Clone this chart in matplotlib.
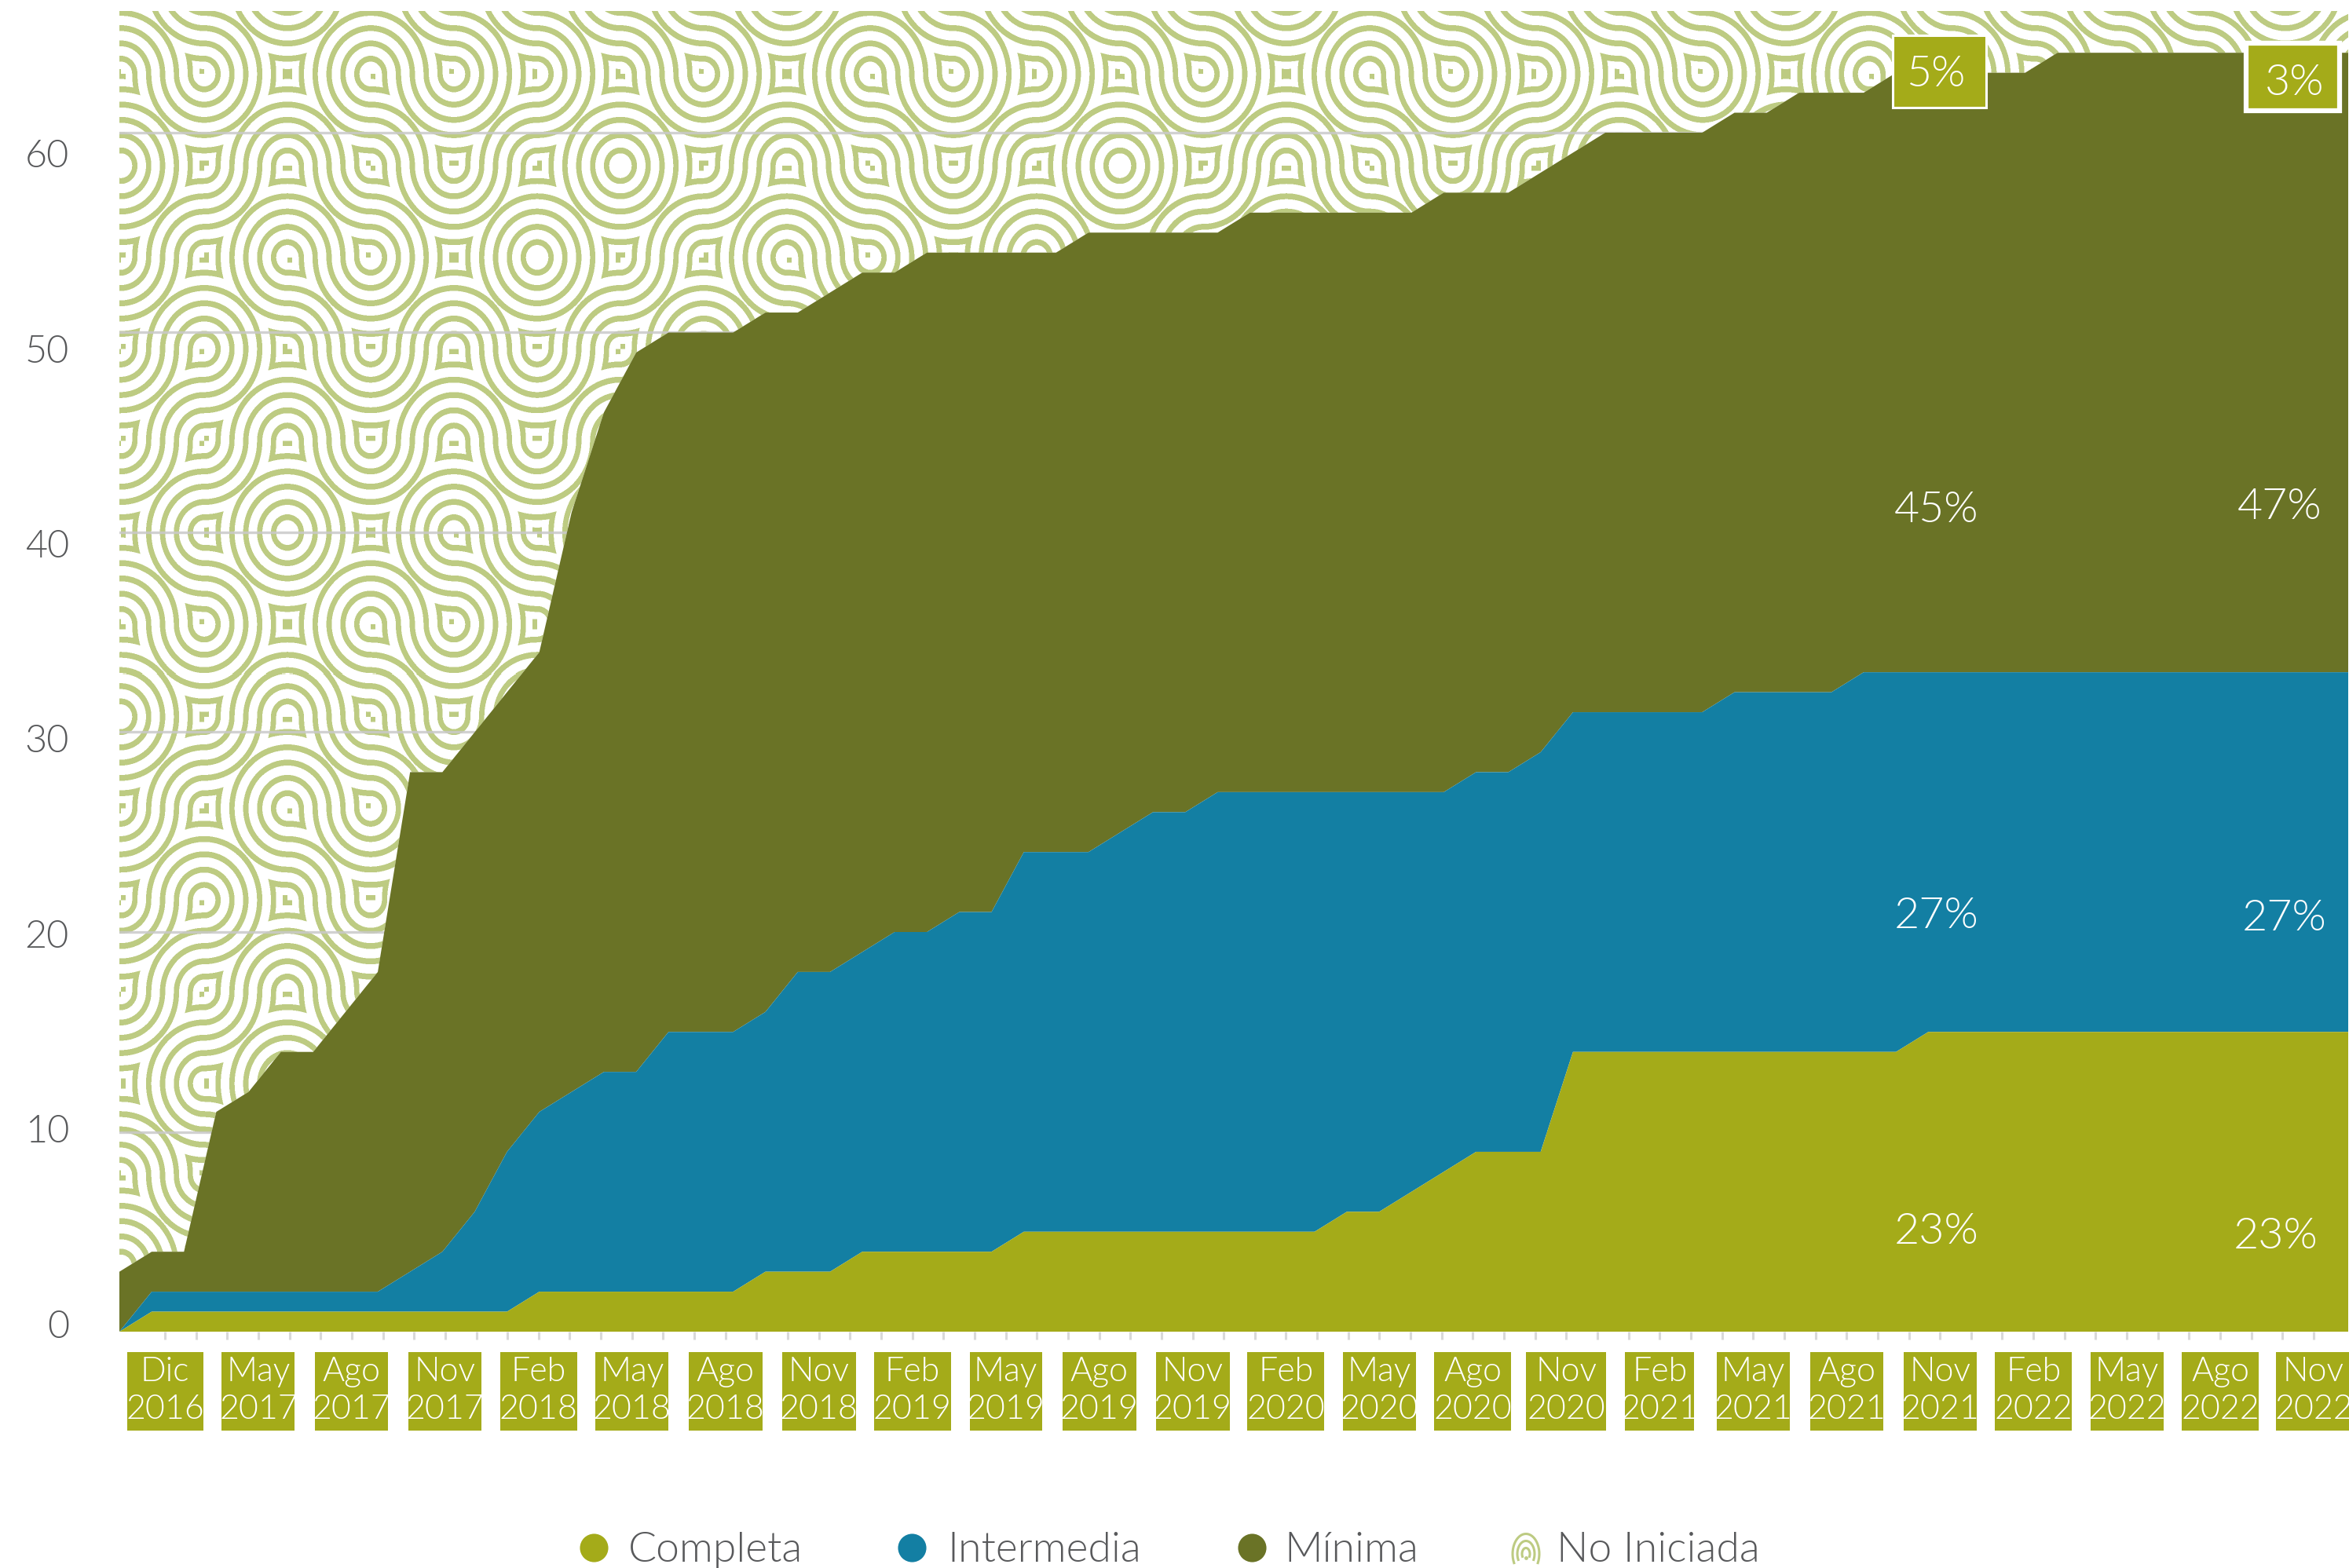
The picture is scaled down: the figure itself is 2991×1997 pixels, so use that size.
#!/usr/bin/python3
# -*- coding: utf-8 -*-

import numpy as np
import matplotlib
matplotlib.use('Agg')
import matplotlib.pyplot as plt
from matplotlib.lines import Line2D
from matplotlib.patches import Rectangle

# cumulative top edge of each band, one value per month
top_completa = [0, 1, 1, 1, 1, 1, 1, 1, 1, 1,
                1, 1, 1, 2, 2, 2, 2, 2, 2, 2,
                3, 3, 3, 4, 4, 4, 4, 4, 5, 5,
                5, 5, 5, 5, 5, 5, 5, 5, 6, 6,
                7, 8, 9, 9, 9, 14, 14, 14, 14, 14,
                14, 14, 14, 14, 14, 14, 15, 15, 15, 15,
                15, 15, 15, 15, 15, 15, 15, 15, 15, 15]
top_intermedia = [0, 2, 2, 2, 2, 2, 2, 2, 2, 3,
                  4, 6, 9, 11, 12, 13, 13, 15, 15, 15,
                  16, 18, 18, 19, 20, 20, 21, 21, 24, 24,
                  24, 25, 26, 26, 27, 27, 27, 27, 27, 27,
                  27, 27, 28, 28, 29, 31, 31, 31, 31, 31,
                  32, 32, 32, 32, 33, 33, 33, 33, 33, 33,
                  33, 33, 33, 33, 33, 33, 33, 33, 33, 33]
top_minima = [3, 4, 4, 11, 12, 14, 14, 16, 18, 28,
              28, 30, 32, 34, 41, 46, 49, 50, 50, 50,
              51, 51, 52, 53, 53, 54, 54, 54, 54, 54,
              55, 55, 55, 55, 55, 56, 56, 56, 56, 56,
              56, 57, 57, 57, 58, 59, 60, 60, 60, 60,
              61, 61, 62, 62, 62, 63, 63, 63, 63, 63,
              64, 64, 64, 64, 64, 64, 64, 64, 64, 64]

months = ['Dic', 'May', 'Ago', 'Nov', 'Feb', 'May', 'Ago', 'Nov', 'Feb', 'May',
          'Ago', 'Nov', 'Feb', 'May', 'Ago', 'Nov', 'Feb', 'May', 'Ago', 'Nov',
          'Feb', 'May', 'Ago', 'Nov']
years = ['2016', '2017', '2017', '2017', '2018', '2018', '2018', '2018', '2019', '2019',
         '2019', '2019', '2020', '2020', '2020', '2020', '2021', '2021', '2021', '2021',
         '2022', '2022', '2022', '2022']
box_widths = [97, 93, 93, 93, 98, 93, 94, 94, 98, 92,
              94, 94, 98, 93, 98, 102, 88, 93, 93, 93,
              98, 93, 98, 97]
y_ticks = [0, 10, 20, 30, 40, 50, 60]

legend_names = ['Completa', 'Intermedia', 'Mínima', 'No Iniciada']

col_completa = '#A4AB19'
col_intermedia = '#137FA3'
col_minima = '#6A7326'
col_pattern = '#BDCB82'
col_text = '#58595B'

# which diagonal each tile of the background pattern uses, repeats every 6x6
tiles = [[1, 0, 1, 1, 0, 0],
         [0, 0, 1, 1, 0, 1],
         [0, 1, 1, 0, 1, 0],
         [0, 0, 1, 0, 1, 0],
         [0, 0, 1, 0, 1, 0],
         [1, 1, 0, 1, 1, 1]]

W, H = 2991, 1997
LEFT, RIGHT, BOTTOM = 152, 2990, 1696
Y_MAX = 66.1
TOP = BOTTOM - Y_MAX * 25.45


def fx(x):
    return np.asarray(x, dtype=float) / W


def fy(y):
    return 1 - np.asarray(y, dtype=float) / H


def pattern_image():
    ss = 2
    xs = (np.arange(int((RIGHT - LEFT) * ss)) + 0.5) / ss + LEFT
    ys = (np.arange(int((BOTTOM - TOP) * ss)) + 0.5) / ss + TOP
    u = (xs - 154.0) / 106.0
    v = (ys - 95.0) / 116.8
    uu, vv = np.meshgrid(u, v)
    iu = np.floor(uu).astype(int)
    iv = np.floor(vv).astype(int)
    fu = uu - iu
    fv = vv - iv
    flip = np.array(tiles)[iv % 6, iu % 6] == 1
    fu = np.where(flip, 1 - fu, fu)
    f = np.minimum(np.hypot(fu, fv), np.hypot(1 - fu, 1 - fv))
    w = 0.032
    on = f > 0.945
    for k in range(1, 6):
        on |= np.abs(f - k / 6.0) < w
    on = on.astype(float)
    h, wd = on.shape
    on = on[:h // ss * ss, :wd // ss * ss]
    alpha = on.reshape(h // ss, ss, wd // ss, ss).mean(axis=(1, 3))
    img = np.zeros(alpha.shape + (4,))
    img[..., :3] = matplotlib.colors.to_rgb(col_pattern)
    img[..., 3] = alpha
    return img


plt.rcParams['font.family'] = ['Lato', 'DejaVu Sans']
LIGHT = 300

fig = plt.figure(figsize=(W / 100.0, H / 100.0), dpi=100)
ax = fig.add_axes([LEFT / W, 1 - BOTTOM / H, (RIGHT - LEFT) / W, (BOTTOM - TOP) / H])

x = np.arange(len(top_minima))
ax.set_xlim(0, len(x) - 1)
ax.set_ylim(0, Y_MAX)

# no iniciada: pattern clipped to everything above the top band
rest = ax.fill_between(x, top_minima, Y_MAX, facecolor='none', edgecolor='none')
im = ax.imshow(pattern_image(), extent=(0, len(x) - 1, 0, Y_MAX), origin='upper',
               aspect='auto', interpolation='nearest', zorder=1)
im.set_clip_path(rest.get_paths()[0], ax.transData)

for v in y_ticks[1:]:
    ax.axhline(v, color='#C9C9C9', lw=2.4, alpha=0.85, zorder=2)

ax.fill_between(x, top_intermedia, top_minima, facecolor=col_minima, edgecolor='none', zorder=3)
ax.fill_between(x, top_completa, top_intermedia, facecolor=col_intermedia, edgecolor='none', zorder=3)
ax.fill_between(x, 0, top_completa, facecolor=col_completa, edgecolor='none', zorder=3)

for s in ax.spines.values():
    s.set_visible(False)
ax.set_yticks([])

# the ticks sit a bit inside the area ends in the original
tick_px = np.linspace(210, 2946, len(x))
tick_pos = (tick_px - LEFT) / (RIGHT - LEFT) * (len(x) - 1)
ax.set_xticks(tick_pos)
ax.set_xticklabels([])
ax.tick_params(axis='x', length=7.5, width=2.2, color='#D9D9D9')

# y labels are lower than their gridlines
for v in y_ticks:
    fig.text(fx(88), fy(1690 - 24.84 * v), str(v), ha='right', va='center',
             color=col_text, fontsize=35, fontweight=LIGHT)

# month boxes
for i in range(len(months)):
    cx = tick_px[i * 3]
    bw = box_widths[i]
    fig.add_artist(Rectangle((fx(cx - bw / 2.0), fy(1822)), bw / W, 100.0 / H,
                             transform=fig.transFigure, facecolor=col_completa,
                             edgecolor='none'))
    fig.text(fx(cx), fy(1759), months[i], ha='center', va='baseline', color='white',
             fontsize=31, fontweight=LIGHT)
    fig.text(fx(cx), fy(1807), years[i], ha='center', va='baseline', color='white',
             fontsize=31, fontweight=LIGHT)

# percent labels
pct = [('45%', 2466, 650), ('47%', 2903, 646), ('27%', 2466, 1167),
       ('27%', 2909, 1170), ('23%', 2466, 1569), ('23%', 2898, 1575)]
for t, px, py in pct:
    fig.text(fx(px), fy(py), t, ha='center', va='center', color='white', fontsize=40,
             fontweight=LIGHT)

fig.add_artist(Rectangle((fx(2410), fy(137)), 119.0 / W, 92.0 / H, transform=fig.transFigure,
                         facecolor=col_completa, edgecolor='white', lw=2.2, zorder=5))
fig.text(fx(2465), fy(95), '5%', ha='center', va='center', color='white', fontsize=40,
         fontweight=LIGHT, zorder=6)
fig.add_artist(Rectangle((fx(2860), fy(141)), 119.0 / W, 86.0 / H, transform=fig.transFigure,
                         facecolor=col_completa, edgecolor='white', lw=4.5, zorder=5))
fig.text(fx(2922), fy(106), '3%', ha='center', va='center', color='white', fontsize=40,
         fontweight=LIGHT, zorder=6)

# legend
legend_marks = [756, 1161, 1594]
legend_text = [800, 1206, 1635, 1982]
legend_cols = [col_completa, col_intermedia, col_minima]
for mx, c in zip(legend_marks, legend_cols):
    fig.add_artist(Line2D([fx(mx)], [fy(1971)], marker='o', markersize=26, color=c, lw=0,
                          markeredgewidth=0, transform=fig.transFigure))
for name, tx in zip(legend_names, legend_text):
    fig.text(fx(tx), fy(1989), name, ha='left', va='baseline', color=col_text, fontsize=38.5,
             fontweight=LIGHT)

# little icon for the pattern
for r in [5, 11, 17]:
    a = np.linspace(-0.15 * np.pi, 1.15 * np.pi, 30)
    fig.add_artist(Line2D(fx(1943 + r * np.cos(a)), fy(1979 - 1.5 * r * np.sin(a)),
                          color=col_pattern, lw=2.2, transform=fig.transFigure))
fig.add_artist(Line2D([fx(1943)], [fy(1984)], marker='o', markersize=3.5, color=col_pattern,
                      lw=0, markeredgewidth=0, transform=fig.transFigure))

fig.savefig('out.png', dpi=100)
